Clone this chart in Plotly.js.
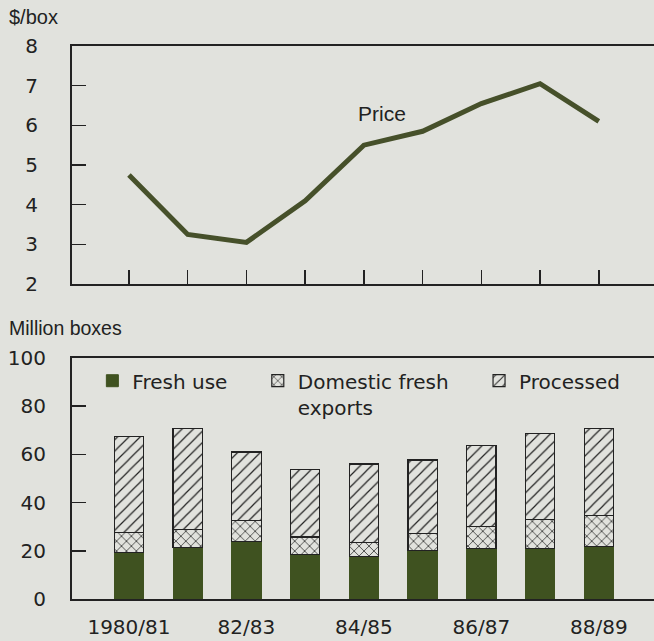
<!DOCTYPE html>
<html>
<head>
<meta charset="utf-8">
<script src="https://cdn.plot.ly/plotly-3.0.1.min.js"></script>
<style>html,body{margin:0;padding:0;background:#e1e2dd;}#chart{width:654px;height:641px;}</style>
</head>
<body>
<div id="chart"></div>
<script>
const seasons = ["1980/81","81/82","82/83","83/84","84/85","85/86","86/87","87/88","88/89"];
const tickLabels = ["1980/81","","82/83","","84/85","","86/87","","88/89"];
const seriesNames = ["Fresh use\u00A0\u00A0\u00A0\u00A0", "Domestic fresh\u00A0\u00A0\u00A0\u00A0<br>exports", "Processed"];
const price = [4.75, 3.25, 3.05, 4.1, 5.5, 5.85, 6.55, 7.05, 6.1];
const freshUse = [19.4, 21.5, 23.8, 18.4, 17.6, 20.1, 20.8, 20.8, 21.8];
const domesticExports = [8.3, 7.2, 8.8, 7.3, 6.0, 7.0, 9.3, 12.3, 12.9];
const processed = [39.8, 41.9, 28.4, 27.9, 32.4, 30.6, 33.5, 35.6, 36.0];

const BG = "#e1e2dd";
const INK = "#222222";
const GREEN = "#3f5220";
const TICKFONT = {family: "DejaVu Sans, sans-serif", size: 20, color: INK};
const TEXTFONT = {family: "Liberation Sans, Arial, sans-serif", size: 20, color: INK};

const traces = [
  {x: seasons, y: price, type: "scatter", mode: "lines", line: {color: "#46502a", width: 5},
   xaxis: "x", yaxis: "y", showlegend: false, hoverinfo: "skip"},
  {x: seasons, y: freshUse, type: "bar", name: seriesNames[0], xaxis: "x2", yaxis: "y2",
   marker: {color: GREEN, line: {color: GREEN, width: 1}}},
  {x: seasons, y: domesticExports, type: "bar", name: seriesNames[1], xaxis: "x2", yaxis: "y2",
   marker: {color: BG, line: {color: INK, width: 1.2},
            pattern: {shape: "x", fgcolor: INK, bgcolor: BG, size: 7, solidity: 0.2}}},
  {x: seasons, y: processed, type: "bar", name: seriesNames[2], xaxis: "x2", yaxis: "y2",
   marker: {color: BG, line: {color: INK, width: 1.2},
            pattern: {shape: "/", fgcolor: INK, bgcolor: BG, size: 8, solidity: 0.15}}}
];

const xr = [-0.97, 8.94];
const layout = {
  width: 654, height: 641,
  paper_bgcolor: BG, plot_bgcolor: BG,
  font: TEXTFONT,
  margin: {l: 72, r: 0, t: 46, b: 42},
  barmode: "stack", bargap: 0.5,
  showlegend: true,
  legend: {orientation: "h", x: 0.035, y: 0.43, xanchor: "left", yanchor: "top",
           bgcolor: "rgba(0,0,0,0)", valign: "top", font: TICKFONT, traceorder: "normal",
           itemwidth: 30},
  xaxis: {domain: [0, 1], anchor: "y", type: "category", range: xr,
          showline: true, mirror: true, linecolor: INK, linewidth: 2,
          ticks: "inside", ticklen: 14, tickwidth: 1.5, tickcolor: INK,
          showticklabels: false, showgrid: false, zeroline: false, fixedrange: true},
  yaxis: {domain: [0.5696, 1], anchor: "x", range: [2, 8], dtick: 1, tick0: 2,
          showline: true, linecolor: INK, linewidth: 2, tickfont: TICKFONT,
          ticks: "inside", ticklen: 14, tickwidth: 1.5, tickcolor: INK,
          ticklabelstandoff: 28, showgrid: false, zeroline: false, fixedrange: true},
  xaxis2: {domain: [0, 1], anchor: "y2", type: "category", range: xr,
           tickvals: seasons, ticktext: tickLabels, tickfont: TICKFONT,
           showline: true, mirror: true, linecolor: INK, linewidth: 2,
           ticks: "", ticklabelstandoff: 9,
           showgrid: false, zeroline: false, fixedrange: true},
  yaxis2: {domain: [0, 0.4358], anchor: "x2", range: [0, 100], dtick: 20,
           showline: true, linecolor: INK, linewidth: 2, tickfont: TICKFONT,
           ticks: "inside", ticklen: 14, tickwidth: 1.5, tickcolor: INK,
           ticklabelstandoff: 20, showgrid: false, zeroline: false, fixedrange: true},
  annotations: [
    {text: "$/box", xref: "paper", yref: "paper", x: -0.112, y: 1.052, xanchor: "left", yanchor: "middle",
     showarrow: false, font: TEXTFONT},
    {text: "Million boxes", xref: "paper", yref: "paper", x: -0.112, y: 0.4895, xanchor: "left", yanchor: "middle",
     showarrow: false, font: {family: TEXTFONT.family, size: 19.5, color: INK}},
    {text: "Price", xref: "x", yref: "y", x: 4.3, y: 6.3, xanchor: "center", yanchor: "middle",
     showarrow: false, font: {family: TEXTFONT.family, size: 21, color: INK}}
  ]
};

Plotly.newPlot("chart", traces, layout, {displayModeBar: false, staticPlot: true});
</script>
</body>
</html>
